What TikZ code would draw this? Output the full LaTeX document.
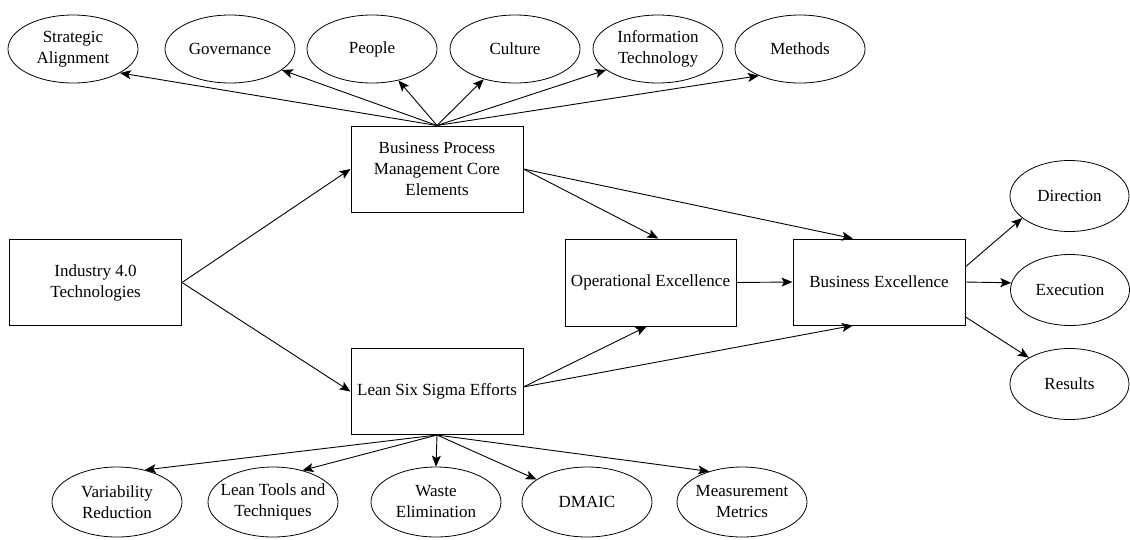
\documentclass[tikz,border=0pt]{standalone}
\usepackage{fontspec}
\setmainfont{Liberation Serif}
\usetikzlibrary{arrows.meta,shapes.geometric}
\begin{document}
\begin{tikzpicture}[x=1pt,y=-1pt,
  every node/.style={font=\fontsize{17}{21}\selectfont, text=black},
  box/.style={draw, line width=1pt, rectangle, minimum width=172pt, minimum height=86pt, align=center, inner sep=0pt},
  ell/.style={draw, line width=0.8pt, ellipse, inner sep=0pt},
  topell/.style={ell, minimum width=130pt, minimum height=68pt},
  botell/.style={ell, minimum width=130pt, minimum height=70pt},
  rightell/.style={ell, minimum width=119pt, minimum height=71pt},
  txt/.style={align=center},
  conn/.style={line width=0.9pt, -{Stealth[length=11pt,width=9pt,inset=2.5pt]}}]
\useasboundingbox (0,0) rectangle (1130,539);

% boxes
\node[box] (ind) at (95.5,282.5) {Industry 4.0\\Technologies};
\node[box] (bpm) at (437,169) {Business Process\\Management Core\\Elements};
\node[box] (lss) at (437,391.5) {Lean Six Sigma Efforts};
\node[box, minimum width=171pt, minimum height=87pt] (oe) at (650.5,282.5) {Operational Excellence};
\node[box] (be) at (879,282) {Business Excellence};

% top ellipses
\node[topell, label={[txt]center:Strategic\\Alignment}] (sa) at (73,49) {};
\node[topell, label={[txt]center:Governance}] (gov) at (230,49) {};
\node[topell, label={[txt]center:People}] (pe) at (372,49) {};
\node[topell, label={[txt]center:Culture}] (cu) at (515,49) {};
\node[topell, label={[txt]center:Information\\Technology}] (it) at (658,49) {};
\node[topell, label={[txt]center:Methods}] (me) at (800,49) {};

% right ellipses
\node[rightell, label={[txt]center:Direction}] (di) at (1069.5,196) {};
\node[rightell, label={[txt]center:Execution}] (ex) at (1070,290) {};
\node[rightell, label={[txt]center:Results}] (re) at (1069.5,384) {};

% bottom ellipses
\node[botell, label={[txt]center:Variability\\Reduction}] (vr) at (117,502) {};
\node[botell, label={[txt]center:Lean Tools and\\Techniques}] (lt) at (273,502) {};
\node[botell, label={[txt]center:Waste\\Elimination}] (we) at (436,502) {};
\node[botell, label={[txt]center:DMAIC}] (dm) at (587,502) {};
\node[botell, label={[txt]center:Measurement\\Metrics}] (mm) at (742,502) {};

% connectors
\draw[conn] (ind.east) -- (bpm.west);
\draw[conn] (ind.east) -- (lss.west);

\draw[conn] (bpm.north) -- (sa.-27);
\draw[conn] (bpm.north) -- (gov.-22);
\draw[conn] (bpm.north) -- (pe.-50);
\draw[conn] (bpm.north) -- (cu.-136);
\draw[conn] (bpm.north) -- (it.-158);
\draw[conn] (bpm.north) -- (me.-147);

\draw[conn] (bpm.east) -- (oe.80);
\draw[conn] (bpm.east) -- (be.121);
\draw[conn] (lss.3) -- (oe.-95);
\draw[conn] (lss.3) -- (be.-121);
\draw[conn] (oe.east) -- (be.west);

\draw[conn] (be.10) -- (di.-155);
\draw[conn] (be.east) -- (ex.173);
\draw[conn] (be.-22) -- (re.147);

\draw[conn] (lss.south) -- (vr.49);
\draw[conn] (lss.south) -- (lt.47);
\draw[conn] (lss.south) -- (we.north);
\draw[conn] (lss.south) -- (dm.156);
\draw[conn] (lss.south) -- (mm.137);
\end{tikzpicture}
\end{document}
